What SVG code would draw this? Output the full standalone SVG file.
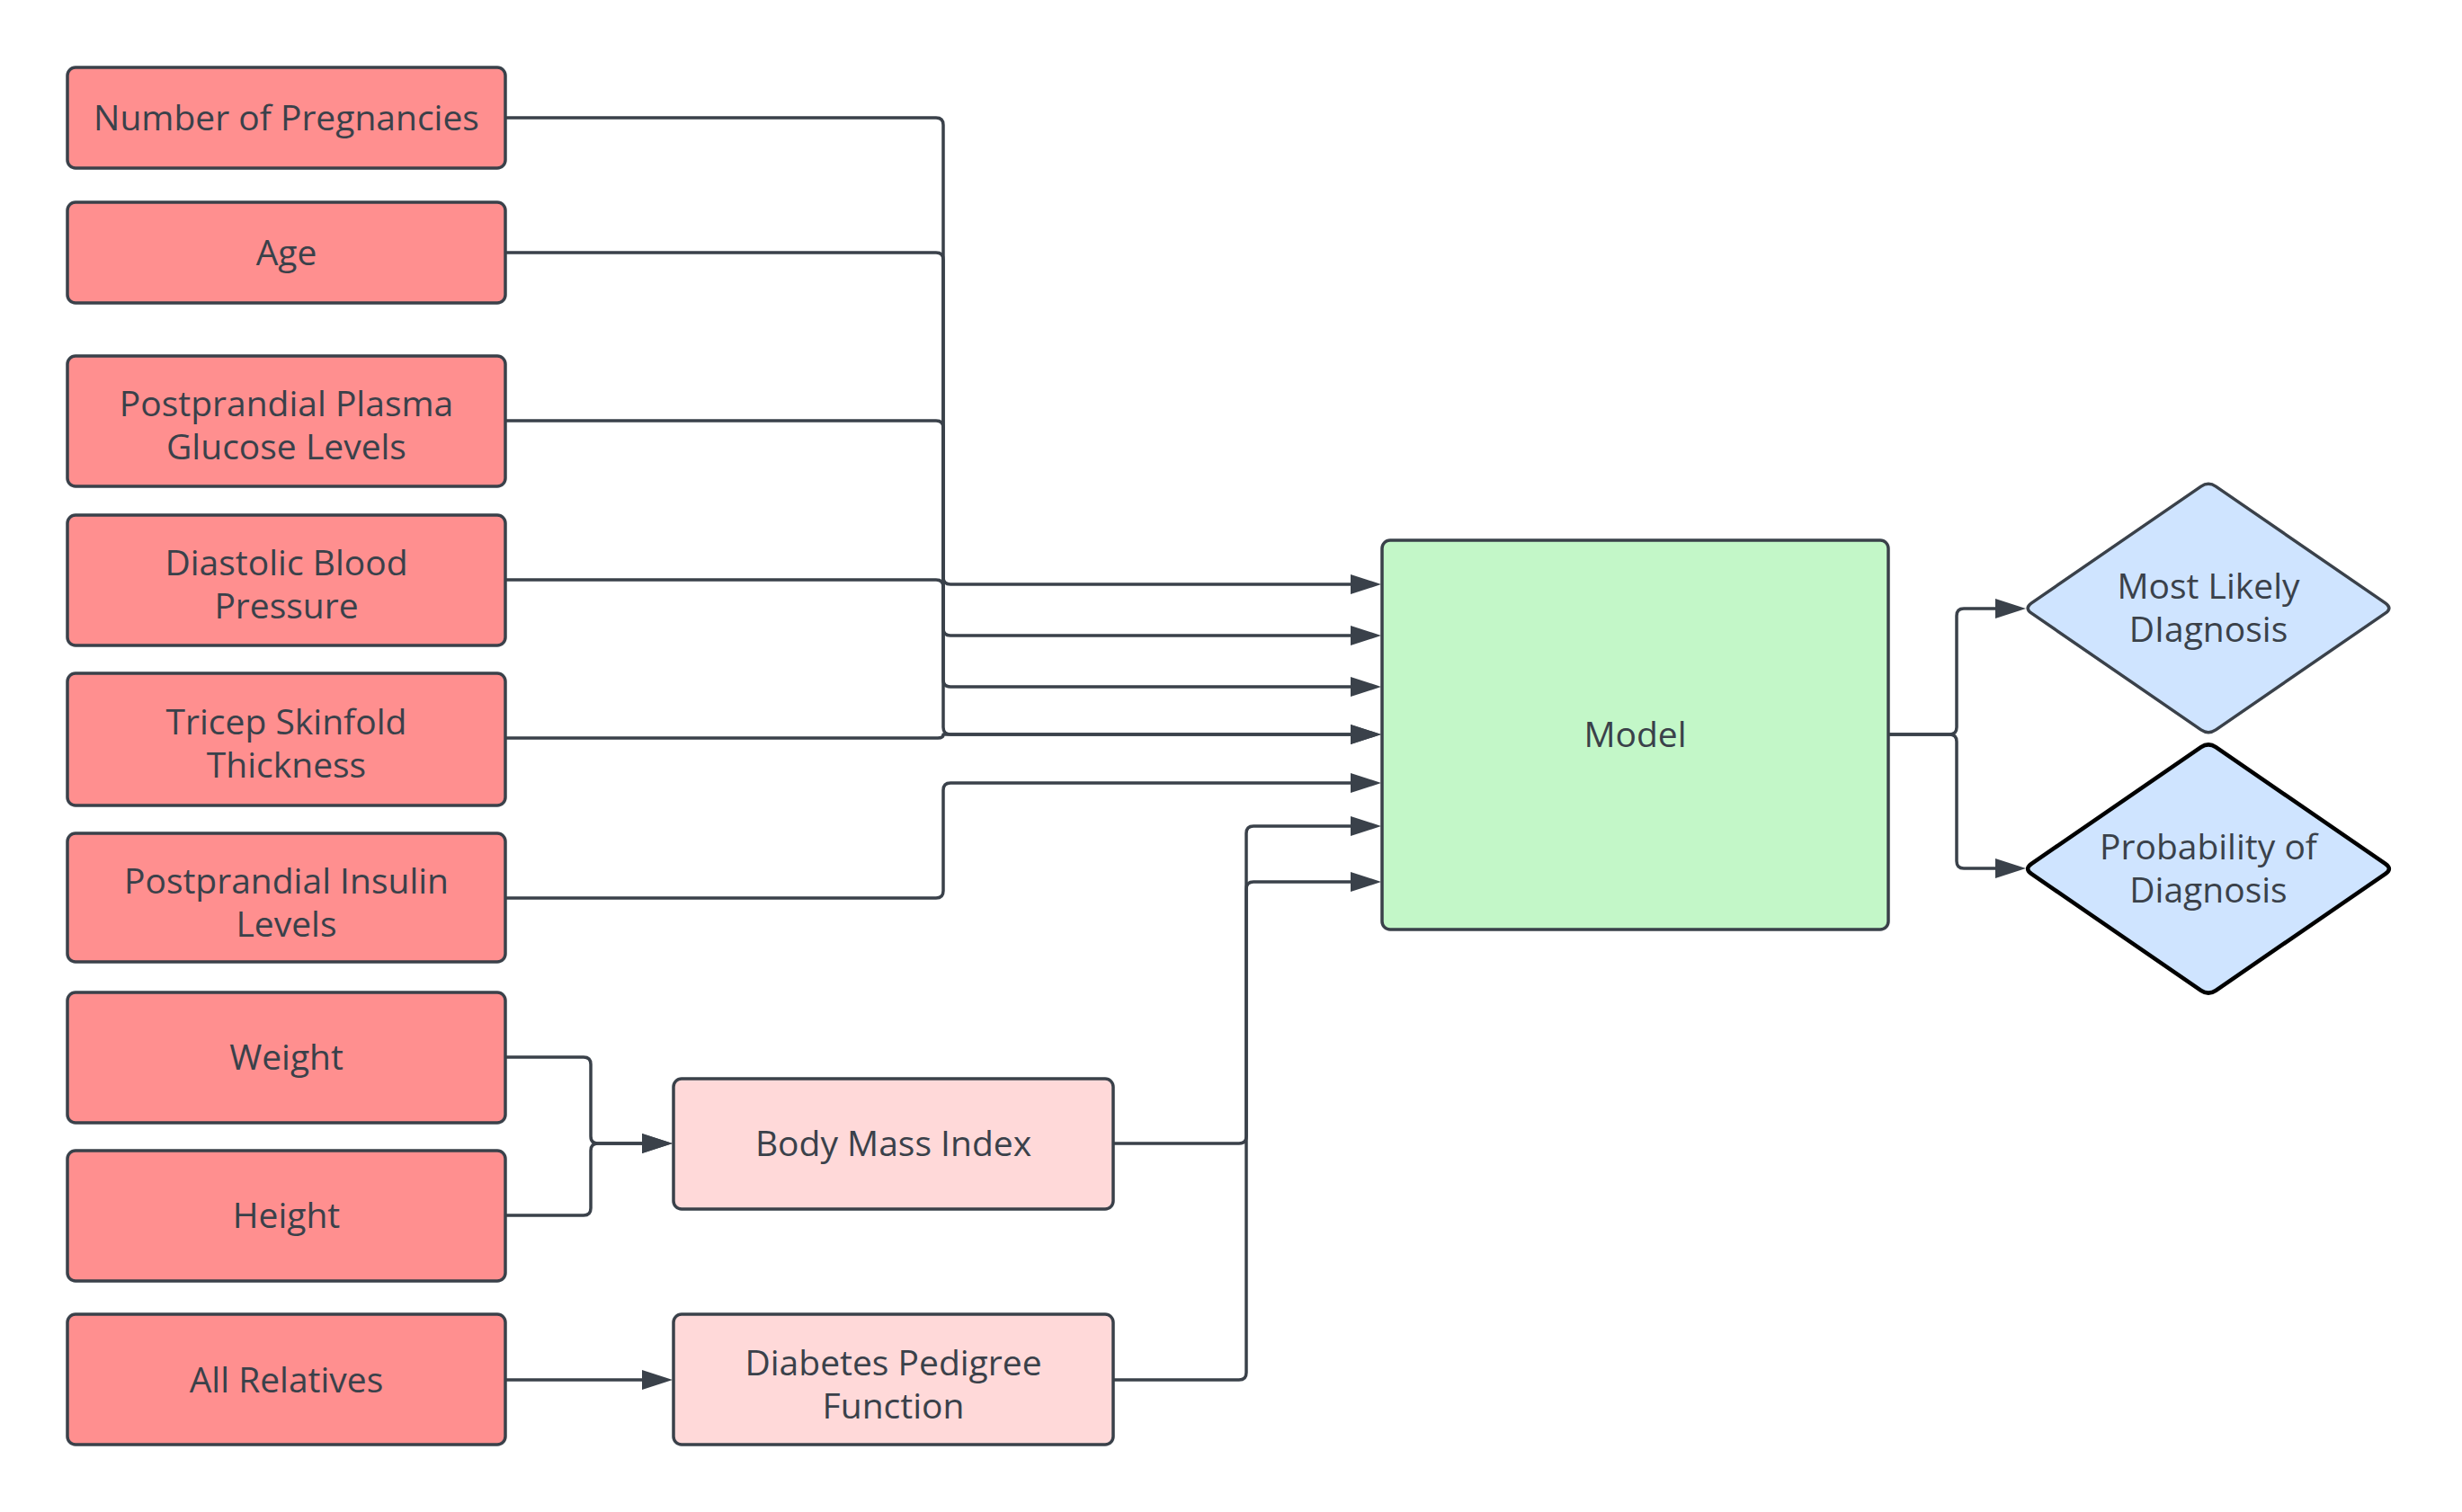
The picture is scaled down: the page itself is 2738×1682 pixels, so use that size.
<svg xmlns="http://www.w3.org/2000/svg" width="2738" height="1682" viewBox="0 0 2738 1682">
<style>
.bg{fill:#ffffff}
.src rect{fill:#ff8f8f;stroke:#3a414a;stroke-width:3.5}
.mid rect{fill:#ffd9d9;stroke:#3a414a;stroke-width:3.5}
.model rect{fill:#c3f7c8;stroke:#3a414a;stroke-width:3.5}
.dia path{fill:#cfe4ff;stroke:#3a414a;stroke-width:3.5}
#probability path{stroke:#000000;stroke-width:4.5}
text{font-family:"Open Sans","Noto Sans","Liberation Sans",sans-serif;font-size:39px;fill:#3a414a;text-anchor:middle}
.edges path{fill:none;stroke:#3a414a;stroke-width:3.5;stroke-linejoin:round}
</style>
<defs>
<marker id="arr" markerUnits="userSpaceOnUse" markerWidth="36" markerHeight="24" refX="1" refY="11" orient="auto" overflow="visible">
<path d="M0,0 L34,11 L0,22 Z" fill="#3a414a"/>
</marker>
</defs>
<rect class="bg" x="0" y="0" width="2738" height="1682"/>
<g class="edges" id="connectors">
<path d="M562,131 H1041 Q1049,131 1049,139 V642 Q1049,650 1057,650 H1503" marker-end="url(#arr)"/>
<path d="M562,281 H1041 Q1049,281 1049,289 V699 Q1049,707 1057,707 H1503" marker-end="url(#arr)"/>
<path d="M562,468 H1041 Q1049,468 1049,476 V756 Q1049,764 1057,764 H1503" marker-end="url(#arr)"/>
<path d="M562,645 H1041 Q1049,645 1049,653 V809 Q1049,817 1057,817 H1503" marker-end="url(#arr)"/>
<path d="M562,821 H1043 Q1049,821 1049,817 H1503" marker-end="url(#arr)"/>
<path d="M562,999 H1041 Q1049,999 1049,991 V879 Q1049,871 1057,871 H1503" marker-end="url(#arr)"/>
<path d="M1238,1272 H1378 Q1386,1272 1386,1264 V927 Q1386,919 1394,919 H1503" marker-end="url(#arr)"/>
<path d="M1238,1535 H1378 Q1386,1535 1386,1527 V989 Q1386,981 1394,981 H1503" marker-end="url(#arr)"/>
<path d="M562,1176 H649 Q657,1176 657,1184 V1264 Q657,1272 665,1272 H715" marker-end="url(#arr)"/>
<path d="M562,1352 H649 Q657,1352 657,1344 V1280 Q657,1272 665,1272 H715" marker-end="url(#arr)"/>
<path d="M562,1535 H715" marker-end="url(#arr)"/>
<path d="M2100,817 H2168 Q2176,817 2176,809 V685 Q2176,677 2184,677 H2220" marker-end="url(#arr)"/>
<path d="M2100,817 H2168 Q2176,817 2176,825 V958 Q2176,966 2184,966 H2220" marker-end="url(#arr)"/>
</g>
<g id="pregnancies" class="src"><rect x="75" y="75" width="487" height="112" rx="9"/><text x="318.5" y="145">Number of Pregnancies</text></g>
<g id="age" class="src"><rect x="75" y="225" width="487" height="112" rx="9"/><text x="318.5" y="295">Age</text></g>
<g id="glucose" class="src"><rect x="75" y="396" width="487" height="145" rx="9"/><text x="318.5" y="463">Postprandial Plasma</text><text x="318.5" y="511">Glucose Levels</text></g>
<g id="diastolic" class="src"><rect x="75" y="573" width="487" height="145" rx="9"/><text x="318.5" y="640">Diastolic Blood</text><text x="318.5" y="688">Pressure</text></g>
<g id="tricep" class="src"><rect x="75" y="749" width="487" height="147" rx="9"/><text x="318.5" y="817">Tricep Skinfold</text><text x="318.5" y="865">Thickness</text></g>
<g id="insulin" class="src"><rect x="75" y="927" width="487" height="143" rx="9"/><text x="318.5" y="994">Postprandial Insulin</text><text x="318.5" y="1042">Levels</text></g>
<g id="weight" class="src"><rect x="75" y="1104" width="487" height="145" rx="9"/><text x="318.5" y="1190">Weight</text></g>
<g id="height" class="src"><rect x="75" y="1280" width="487" height="145" rx="9"/><text x="318.5" y="1366">Height</text></g>
<g id="relatives" class="src"><rect x="75" y="1462" width="487" height="145" rx="9"/><text x="318.5" y="1549">All Relatives</text></g>
<g id="bmi" class="mid"><rect x="749" y="1200" width="489" height="145" rx="9"/><text x="993.5" y="1286">Body Mass Index</text></g>
<g id="pedigree" class="mid"><rect x="749" y="1462" width="489" height="145" rx="9"/><text x="993.5" y="1530">Diabetes Pedigree</text><text x="993.5" y="1578">Function</text></g>
<g id="model" class="model"><rect x="1537" y="601" width="563" height="433" rx="9"/><text x="1818.5" y="831">Model</text></g>
<g id="most-likely" class="dia"><path d="M2259.24,670.83 L2447.76,541.17 Q2456,535.5 2464.24,541.17 L2652.76,670.83 Q2661,676.5 2652.76,682.17 L2464.24,811.83 Q2456,817.5 2447.76,811.83 L2259.24,682.17 Q2251,676.5 2259.24,670.83 Z"/><text x="2456" y="666">Most Likely</text><text x="2456" y="714">DIagnosis</text></g>
<g id="probability" class="dia"><path transform="translate(0,290)" d="M2259.24,670.83 L2447.76,541.17 Q2456,535.5 2464.24,541.17 L2652.76,670.83 Q2661,676.5 2652.76,682.17 L2464.24,811.83 Q2456,817.5 2447.76,811.83 L2259.24,682.17 Q2251,676.5 2259.24,670.83 Z"/><text x="2456" y="956">Probability of</text><text x="2456" y="1004">Diagnosis</text></g>
</svg>
